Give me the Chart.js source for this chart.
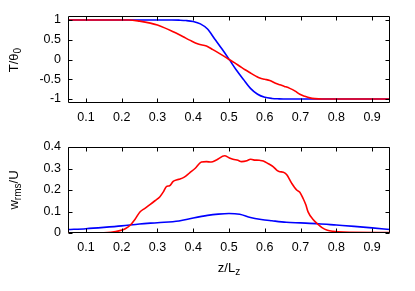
<!DOCTYPE html>
<html>
<head>
<meta charset="utf-8">
<script src="https://cdn.jsdelivr.net/npm/chart.js@4.4.1/dist/chart.umd.min.js"></script>
<style>
  html, body { margin: 0; padding: 0; background: #fff; }
  #wrap { position: relative; width: 415px; height: 291px; overflow: hidden; font-family: "Liberation Sans", Arial, sans-serif; color: #000; }
  canvas { position: absolute; left: 0; }
  .lbl { position: absolute; font-size: 13px; line-height: 1; white-space: nowrap; }
  .lbl sub { font-size: 10px; vertical-align: -3px; line-height: 0; }
  .rot { transform: translate(-50%, -50%) rotate(-90deg); }
</style>
</head>
<body>
<div id="wrap">
  <canvas id="top" width="415" height="125" style="top:0"></canvas>
  <canvas id="bot" width="415" height="166" style="top:125px"></canvas>
  <div class="lbl rot" style="left:13px; top:60px">T/θ<sub>0</sub></div>
  <div class="lbl rot" style="left:13px; top:190px">w<sub>rms</sub>/U</div>
  <div class="lbl" style="left:229px; top:267px; transform: translate(-50%, -50%)">z/L<sub>z</sub></div>
</div>
<script>
// ticks
const zTicks = [0.1, 0.2, 0.3, 0.4, 0.5, 0.6, 0.7, 0.8, 0.9];
const tTicks = [-1, -0.5, 0, 0.5, 1];
const wTicks = [0, 0.1, 0.2, 0.3, 0.4];

// top panel, blue : T/theta0
const zBlueT = [0.05, 0.34, 0.36, 0.38, 0.40, 0.42, 0.44, 0.46, 0.48, 0.50, 0.52, 0.54, 0.56, 0.58, 0.60, 0.62, 0.64, 0.66, 0.95];
const blueT  = [1, 1, 0.995, 0.985, 0.96, 0.9, 0.77, 0.52, 0.27, 0.01, -0.26, -0.5, -0.73, -0.88, -0.955, -0.985, -0.995, -1, -1];

// top panel, red : T/theta0
const zRedT = [0.05, 0.22, 0.25, 0.28, 0.30, 0.32, 0.344, 0.36, 0.372, 0.39, 0.414, 0.437, 0.455, 0.474, 0.497, 0.515, 0.53, 0.545, 0.558, 0.575, 0.586, 0.60, 0.614, 0.63, 0.642, 0.655, 0.67, 0.685, 0.698, 0.712, 0.726, 0.74, 0.76, 0.95];
const redT  = [1, 1, 0.97, 0.92, 0.87, 0.8, 0.7, 0.63, 0.575, 0.49, 0.39, 0.34, 0.25, 0.15, 0.02, -0.08, -0.17, -0.26, -0.33, -0.42, -0.47, -0.5, -0.53, -0.6, -0.64, -0.68, -0.73, -0.8, -0.88, -0.93, -0.97, -0.99, -1, -1];

// bottom panel, blue : w_rms/U
const zBlueW = [0.05, 0.1, 0.15, 0.2, 0.25, 0.3, 0.36, 0.4, 0.44, 0.47, 0.5, 0.53, 0.56, 0.59, 0.62, 0.66, 0.7, 0.75, 0.8, 0.85, 0.9, 0.95];
const blueW  = [0.016, 0.02, 0.026, 0.033, 0.042, 0.048, 0.056, 0.07, 0.082, 0.088, 0.091, 0.087, 0.072, 0.063, 0.057, 0.05, 0.047, 0.043, 0.037, 0.031, 0.024, 0.016];

// bottom panel, red : w_rms/U
const zRedW = [0.05, 0.15, 0.17, 0.195, 0.21, 0.223, 0.237, 0.251, 0.265, 0.279, 0.293, 0.307, 0.316, 0.325, 0.334, 0.344, 0.355, 0.363, 0.375, 0.39, 0.405, 0.423, 0.437, 0.45, 0.465, 0.488, 0.5, 0.511, 0.525, 0.535, 0.55, 0.56, 0.568, 0.585, 0.596, 0.61, 0.624, 0.635, 0.642, 0.652, 0.661, 0.675, 0.689, 0.698, 0.707, 0.715, 0.721, 0.735, 0.749, 0.76, 0.775, 0.79, 0.82, 0.95];
const redW  = [0, 0.001, 0.003, 0.011, 0.02, 0.035, 0.063, 0.098, 0.115, 0.132, 0.15, 0.169, 0.19, 0.216, 0.22, 0.24, 0.248, 0.251, 0.26, 0.28, 0.3, 0.33, 0.332, 0.33, 0.34, 0.359, 0.35, 0.343, 0.338, 0.332, 0.336, 0.343, 0.34, 0.338, 0.335, 0.322, 0.308, 0.29, 0.285, 0.283, 0.272, 0.232, 0.2, 0.19, 0.161, 0.13, 0.098, 0.063, 0.04, 0.025, 0.013, 0.008, 0.004, 0.002];

const pts = (xs, ys) => xs.map((x, i) => ({ x, y: ys[i] }));
const font = { family: '"Liberation Sans", Arial, sans-serif', size: 12.5 };

// gnuplot-like frame with inward ticks on all four sides
const framePlugin = {
  id: 'frame',
  afterDraw(chart) {
    const { ctx, chartArea: a, scales } = chart;
    const L = Math.round(a.left) + 0.5, R = Math.round(a.right) - 0.5;
    const T = Math.round(a.top) + 0.5, B = Math.round(a.bottom) - 0.5;
    const len = 4;
    ctx.save();
    ctx.strokeStyle = '#000';
    ctx.lineWidth = 1;
    ctx.beginPath();
    ctx.rect(L, T, R - L, B - T);
    for (const t of scales.x.ticks) {
      const px = Math.round(scales.x.getPixelForValue(t.value)) + 0.5;
      ctx.moveTo(px, B); ctx.lineTo(px, B - len);
      ctx.moveTo(px, T); ctx.lineTo(px, T + len);
    }
    for (const t of scales.y.ticks) {
      const py = Math.round(scales.y.getPixelForValue(t.value)) + 0.5;
      ctx.moveTo(L, py); ctx.lineTo(L + len, py);
      ctx.moveTo(R, py); ctx.lineTo(R - len, py);
    }
    ctx.stroke();
    ctx.restore();
  }
};

function makeChart(id, sets, yMin, yMax, yTicks, padTop, xHeight) {
  return new Chart(document.getElementById(id), {
    type: 'line',
    data: {
      datasets: sets.map(([data, color]) => ({
        data, borderColor: color, borderWidth: 1.6, pointRadius: 0,
        fill: false, cubicInterpolationMode: 'monotone',
      })),
    },
    options: {
      responsive: false, animation: false, events: [],
      layout: { padding: { left: 0, right: 25, top: padTop, bottom: 0 } },
      plugins: { legend: { display: false }, tooltip: { enabled: false } },
      scales: {
        x: {
          type: 'linear', min: 0.05, max: 0.95,
          afterBuildTicks: (s) => { s.ticks = zTicks.map((v) => ({ value: v })); },
          afterFit: (s) => { s.height = xHeight; },
          ticks: { color: '#000', font, padding: 7, maxRotation: 0, autoSkip: false, callback: (v) => String(v) },
          grid: { display: false, drawTicks: false },
          border: { display: false },
        },
        y: {
          min: yMin, max: yMax,
          afterBuildTicks: (s) => { s.ticks = yTicks.map((v) => ({ value: v })); },
          afterFit: (s) => { s.width = 68; },
          ticks: { color: '#000', font, padding: 7, autoSkip: false, callback: (v) => String(v) },
          grid: { display: false, drawTicks: false },
          border: { display: false },
        },
      },
    },
    plugins: [framePlugin],
  });
}

makeChart('top', [[pts(zRedT, redT), '#ff0000'], [pts(zBlueT, blueT), '#0000ff']], -1.1, 1.1, tTicks, 16, 22);
makeChart('bot', [[pts(zRedW, redW), '#ff0000'], [pts(zBlueW, blueW), '#0000ff']], 0, 0.4, wTicks, 22, 58);
</script>
</body>
</html>
